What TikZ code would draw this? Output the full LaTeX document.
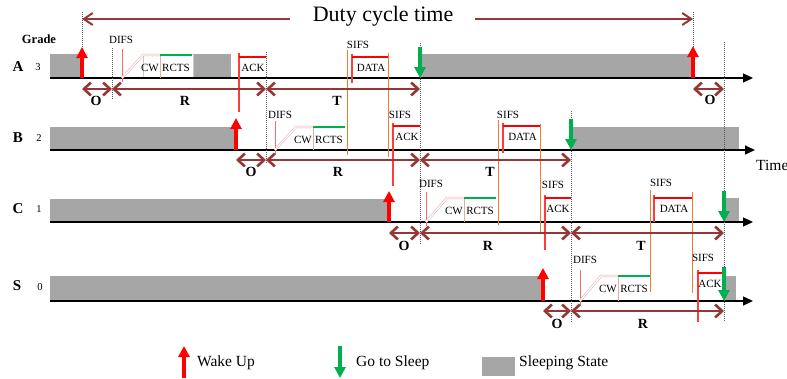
\documentclass[tikz,border=0pt]{standalone}
\usepackage{fontspec}
\setmainfont{Liberation Serif}
\usetikzlibrary{arrows.meta}
\definecolor{dred}{RGB}{149,55,53}
\definecolor{sleepgray}{RGB}{166,166,166}
\definecolor{orng}{RGB}{237,125,49}
\definecolor{grn}{RGB}{0,176,80}
\definecolor{difspink}{RGB}{240,110,110}
\definecolor{cwpink}{RGB}{235,170,170}
\definecolor{dotgray}{RGB}{90,90,90}
\definecolor{ackred}{RGB}{255,60,60}
\newcommand\contend[3]{%
  \draw[difsline] (#1,{#2-6}) -- (#1,{#3+4});
  \draw[cwline] (#1,#3) -- ({#1+21},#2) -- ({#1+38},#2);
  \draw[cwthin] ({#1+38},#2) -- ({#1+38},#3);
  \draw[rctsline] ({#1+38},#2) -- ({#1+70},#2);
  \node[lbl] (cw#1) at ({#1+28},{#2+13}) {CW};
  \node[lbl] (rcts#1) at ({#1+54},{#2+13}) {RCTS};
}
\newcommand\pkt[5]{% x0, x1, top, bottom, text
  \draw[redv] (#1,{#3-3}) -- (#1,#4);
  \draw[redtop] (#1,#3) -- (#2,#3);
  \node[lbl] (pk#1) at ({(#1+#2)/2+1},{#3+11}) {#5};
}
\begin{document}
\begin{tikzpicture}[x=1pt,y=-1pt,
  sleep/.style={fill=sleepgray,draw=none},
  axisline/.style={black,line width=1.3pt,-{Triangle[length=10pt,width=9pt]}},
  dotv/.style={dotgray,densely dotted,line width=1pt},
  dur/.style={dred,line width=2.6pt,{Straight Barb[length=7pt,width=13pt]}-{Straight Barb[length=7pt,width=13pt]}},
  difsline/.style={difspink,line width=1pt},
  cwline/.style={cwpink,line width=0.5pt,double=white,double distance=1.3pt},
  cwthin/.style={cwpink,line width=0.8pt},
  rctsline/.style={grn,line width=2pt},
  redv/.style={ackred,line width=1.2pt},
  redtop/.style={red,line width=2pt},
  orv/.style={orng,line width=1pt},
  wakearrow/.style={red,line width=3.2pt,-{Triangle[length=11pt,width=11pt]}},
  sleeparrow/.style={grn,line width=3.2pt,-{Triangle[length=11pt,width=11pt]}},
  lbl/.style={font=\fontsize{11}{12}\selectfont,inner sep=0pt},
  plab/.style={font=\fontsize{14}{16}\selectfont\bfseries,inner sep=0pt},
  rowlab/.style={font=\fontsize{15}{17}\selectfont\bfseries,inner sep=0pt},
  grlab/.style={font=\fontsize{10.5}{12}\selectfont,inner sep=0pt},
  leg/.style={font=\fontsize{15.5}{18}\selectfont,inner sep=0pt,anchor=west}]
\useasboundingbox (0,0) rectangle (787,378);

% sleeping states
\fill[sleep] (50,54) rectangle (82,78);
\fill[sleep] (193,54) rectangle (231,78);
\draw[sleepgray!60,fill=white,line width=0.6pt] (143,54) rectangle (193,78);
\fill[sleep] (420,54) rectangle (693,78);
\fill[sleep] (50,127) rectangle (236,150);
\fill[sleep] (571,127) rectangle (739,150);
\fill[sleep] (50,199) rectangle (389,222);
\fill[sleep] (724,198) rectangle (739,222);
\fill[sleep] (50,276) rectangle (543,301);
\fill[sleep] (724,276) rectangle (736,301);

% axes
\draw[axisline] (50,78) -- (753,78);
\draw[axisline] (50,150) -- (755,150);
\draw[axisline] (50,222) -- (753,222);
\draw[axisline] (50,301) -- (753,301);

% dotted boundaries
\draw[dotv] (82,12) -- (82,78);
\draw[dotv] (112,48) -- (112,100);
\draw[dotv] (266,52) -- (266,163);
\draw[dotv] (420,43) -- (420,245);
\draw[dotv] (571,111) -- (571,323);
\draw[dotv] (724,42) -- (724,322);
\draw[dotv] (693,12) -- (693,78);

% duty cycle
\node[font=\fontsize{22}{24}\selectfont,inner sep=0pt] (duty) at (383,16) {Duty cycle time};
\draw[dred,line width=2pt,{Straight Barb[length=9pt,width=12pt]}-] (82,19) -- (290,19);
\draw[dred,line width=2pt,-{Straight Barb[length=9pt,width=12pt]}] (475,19) -- (693,19);

% row labels
\node[font=\fontsize{12.5}{14}\selectfont\bfseries,inner sep=0pt] (grade) at (39,39) {Grade};
\node[rowlab] (rA) at (18,67) {A};
\node[grlab] (gA) at (38,67) {3};
\node[rowlab] (rB) at (18,138) {B};
\node[grlab] (gB) at (39,138) {2};
\node[rowlab] (rC) at (18,209) {C};
\node[grlab] (gC) at (39,209) {1};
\node[rowlab] (rS) at (17,286) {S};
\node[grlab] (gS) at (40,287) {0};
\node[anchor=west,font=\fontsize{15.5}{18}\selectfont,inner sep=0pt] (time) at (756,165) {Time};

% contention windows
\contend{122}{55}{78}
\contend{275}{127}{150}
\contend{426}{198}{222}
\contend{580}{276}{301}

% DIFS labels
\node[lbl] (d1) at (121,40) {DIFS};
\node[lbl] (d2) at (280,115) {DIFS};
\node[lbl] (d3) at (431,184) {DIFS};
\node[lbl] (d4) at (585,260) {DIFS};

% orange links
\draw[orv] (347,50) -- (347,155);
\draw[orv] (388,53) -- (388,157);
\draw[orv] (498,120) -- (498,225);
\draw[orv] (540,124) -- (540,232);
\draw[orv] (650,190) -- (650,292);
\draw[orv] (692,192) -- (692,293);

% SIFS labels
\node[lbl] (s1) at (358,45) {SIFS};
\node[lbl] (s2) at (400,115) {SIFS};
\node[lbl] (s3) at (508,115) {SIFS};
\node[lbl] (s4) at (553,185) {SIFS};
\node[lbl] (s5) at (661,183) {SIFS};
\node[lbl] (s6) at (703,258) {SIFS};

% packets
\pkt{352}{388}{57}{83}{DATA}
\pkt{503}{540}{126}{153}{DATA}
\pkt{654}{692}{198}{222}{DATA}
\draw[redv] (239,53) -- (239,112);
\draw[redtop] (239,57) -- (266,57);
\node[lbl] (ackA) at (253,68) {ACK};
\draw[redv] (393,123) -- (393,186);
\draw[redtop] (393,126) -- (420,126);
\node[lbl] (ackB) at (407,137) {ACK};
\draw[redv] (545,195) -- (545,250);
\draw[redtop] (545,198) -- (571,198);
\node[lbl] (ackC) at (558,209) {ACK};
\draw[redv] (698,270) -- (698,322);
\draw[redtop] (698,273) -- (724,273);
\node[lbl] (ackS) at (710,284) {ACK};

% period arrows
\draw[dur] (82,89) -- (112,89);
\draw[dur] (112,89) -- (266,89);
\draw[dur] (266,89) -- (420,89);
\draw[dur] (693,89) -- (724,89);
\draw[dur] (236,160) -- (266,160);
\draw[dur] (266,160) -- (420,160);
\draw[dur] (420,160) -- (571,160);
\draw[dur] (389,233) -- (420,233);
\draw[dur] (420,233) -- (571,233);
\draw[dur] (571,233) -- (724,233);
\draw[dur] (543,311) -- (571,311);
\draw[dur] (571,311) -- (724,311);

\node[plab] (oA1) at (96,101) {O};
\node[plab] (pR1) at (185,101) {R};
\node[plab] (pT1) at (337,101) {T};
\node[plab] (oA2) at (710,100) {O};
\node[plab] (oB) at (251,172) {O};
\node[plab] (pR2) at (338,172) {R};
\node[plab] (pT2) at (490,172) {T};
\node[plab] (oC) at (404,246) {O};
\node[plab] (pR3) at (488,246) {R};
\node[plab] (pT3) at (641,246) {T};
\node[plab] (oS) at (557,324) {O};
\node[plab] (pR4) at (643,324) {R};

% wake / sleep arrows
\draw[wakearrow] (82,78) -- (82,47);
\draw[sleeparrow] (420,47) -- (420,78);
\draw[wakearrow] (693,78) -- (693,46);
\draw[wakearrow] (236,150) -- (236,118);
\draw[sleeparrow] (571,119) -- (571,150);
\draw[wakearrow] (389,222) -- (389,191);
\draw[sleeparrow] (724,191) -- (724,222);
\draw[wakearrow] (543,301) -- (543,268);
\draw[sleeparrow] (724,267) -- (724,301);

% legend
\draw[wakearrow] (184,378) -- (184,346);
\node[leg] (lw) at (197,363) {Wake Up};
\draw[sleeparrow] (340,346) -- (340,378);
\node[leg] (ls) at (356,363) {Go to Sleep};
\fill[sleep] (482,357) rectangle (515,376);
\node[leg] (lss) at (519,363) {Sleeping State};
\end{tikzpicture}
\end{document}
